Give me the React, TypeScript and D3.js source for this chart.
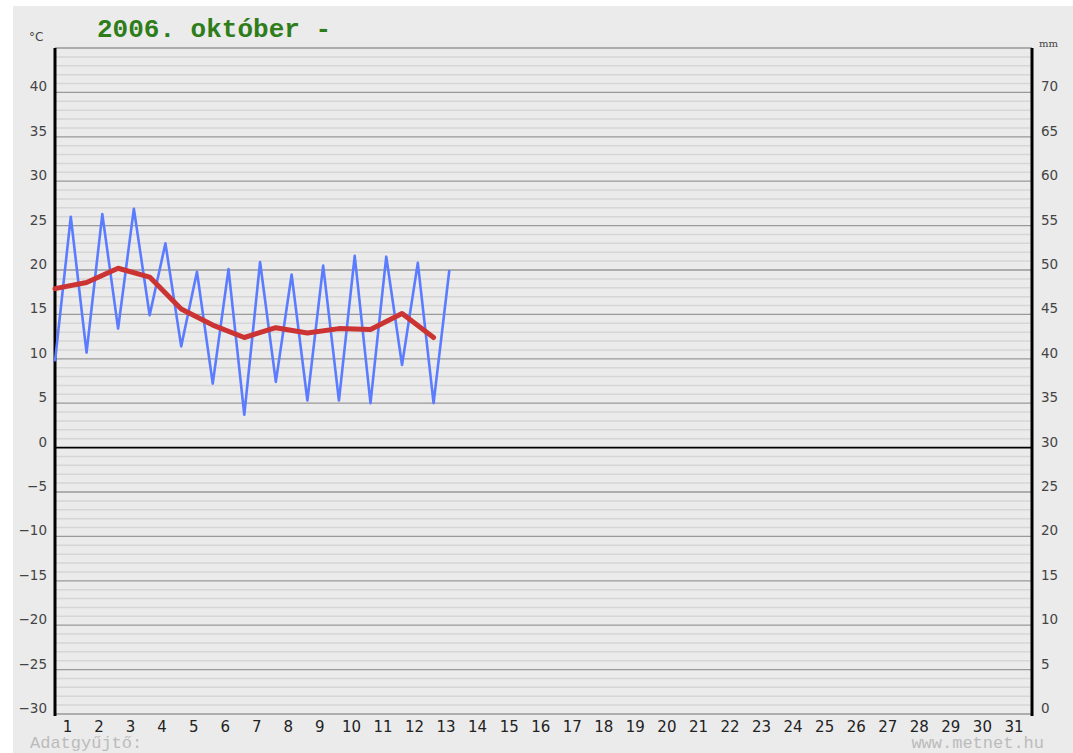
import * as d3 from "d3";

// napi adatok, 2006. október (1-13.)
const days = d3.range(1, 32);
const tMin = [9.7, 10.7, 13.4, 14.9, 11.4, 7.2, 3.7, 7.4, 5.3, 5.3, 5.0, 9.3, 5.0];
const tMax = [26.0, 26.3, 26.9, 23.0, 19.8, 20.1, 20.9, 19.5, 20.5, 21.6, 21.5, 20.8, 20.0];
const tAvg = [17.9, 18.6, 20.2, 19.2, 15.6, 13.8, 12.4, 13.5, 12.9, 13.4, 13.3, 15.1, 12.4];
const tempTicks = d3.range(-30, 41, 5);
const mmTicks = d3.range(0, 71, 5);
const title = "2006. október -";

const W = 1073;
const H = 753;

export default function App() {
  const x = d3.scaleLinear().domain([0, 31]).range([55, 1033]);
  const y = d3.scaleLinear().domain([-30, 45]).range([714, 48]);
  const yMm = d3.scaleLinear().domain([0, 75]).range([714, 48]);

  // min a nap elején, max a nap közepén
  const minMax: [number, number][] = [];
  tMin.forEach((v, i) => {
    minMax.push([i, v]);
    minMax.push([i + 0.5, tMax[i]]);
  });
  const avgPts: [number, number][] = tAvg.map((v, i) => [i, v]);

  const line = d3
    .line<[number, number]>()
    .x((d) => x(d[0]))
    .y((d) => y(d[1]));

  const minor = d3.range(-29, 45).filter((v) => v % 5 !== 0);
  const fmt = d3.format("d");

  return (
    <svg
      width={W}
      height={H}
      style={{ position: "absolute", left: 0, top: 0 }}
    >
      <rect x={0} y={0} width={W} height={H} fill="#fff" />
      <rect x={13} y={6} width={W - 13} height={H - 6} fill="#ebebeb" />

      {/* rácsvonalak */}
      {minor.map((v) => (
        <line key={"m" + v} x1={55} x2={1032} y1={y(v)} y2={y(v)} stroke="#d6d6d6" strokeWidth={1.5} />
      ))}
      {d3.range(-30, 46, 5).map((v) => (
        <line
          key={"M" + v}
          x1={55}
          x2={1032}
          y1={y(v)}
          y2={y(v)}
          stroke={v === 0 ? "#000" : "#999"}
          strokeWidth={v === 0 ? 1.6 : 1.3}
        />
      ))}

      {/* tengelyek */}
      <line x1={55} x2={55} y1={48} y2={716} stroke="#000" strokeWidth={3} />
      <line x1={1032} x2={1032} y1={48} y2={716} stroke="#000" strokeWidth={3} />

      {tempTicks.map((v) => (
        <text
          key={"t" + v}
          x={47}
          y={y(v) - 1}
          textAnchor="end"
          fontFamily="DejaVu Sans"
          fontSize={13.5}
          fill="#444"
        >
          {fmt(v)}
        </text>
      ))}
      {mmTicks.map((v) => (
        <text
          key={"r" + v}
          x={1041}
          y={yMm(v) - 1}
          fontFamily="DejaVu Sans"
          fontSize={13.5}
          fill="#444"
        >
          {v}
        </text>
      ))}
      <text x={29} y={41} fontFamily="DejaVu Sans" fontSize={12} fill="#444">°C</text>
      <text x={1039} y={47} fontFamily="DejaVu Serif" fontSize={10} fill="#444">mm</text>

      {days.map((d) => (
        <text
          key={"d" + d}
          x={x(d - 1) + 12.5}
          y={732}
          textAnchor="middle"
          fontFamily="DejaVu Sans"
          fontSize={15}
          fill="#222"
        >
          {d}
        </text>
      ))}

      <path d={line(minMax) ?? ""} fill="none" stroke="#5b7cff" strokeWidth={2.6} strokeLinejoin="round" />
      <path d={line(avgPts) ?? ""} fill="none" stroke="#cc3333" strokeWidth={5} strokeLinejoin="round" strokeLinecap="round" />

      <text
        x={97}
        y={37}
        fontFamily="Liberation Mono"
        fontWeight="bold"
        fontSize={26}
        fill="#2f7d1a"
      >
        {title}
      </text>
      <text x={30} y={748} fontFamily="Liberation Mono" fontSize={17} fill="#bbb">
        Adatgyűjtő:
      </text>
      <text x={1044} y={748} textAnchor="end" fontFamily="Liberation Mono" fontSize={17} fill="#bbb">
        www.metnet.hu
      </text>
    </svg>
  );
}
